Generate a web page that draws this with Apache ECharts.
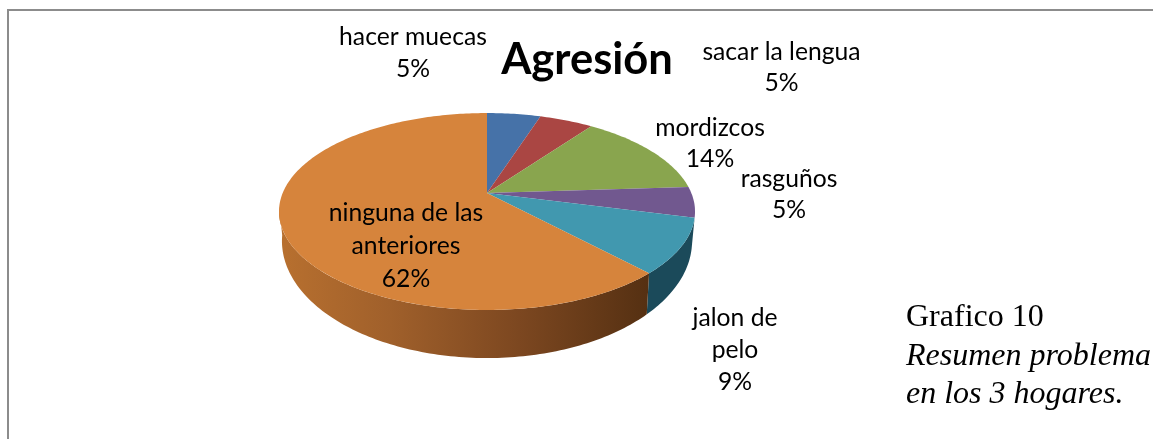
<!DOCTYPE html>
<html>
<head>
<meta charset="utf-8">
<style>html,body{margin:0;padding:0;background:#fff}#c{width:1153px;height:439px}</style>
<script src="https://cdn.jsdelivr.net/npm/echarts@6/dist/echarts.min.js"></script>
</head>
<body>
<div id="c"></div>
<script>
const categories = ['hacer muecas', 'sacar la lengua', 'mordizcos', 'rasguños', 'jalon de\npelo', 'ninguna de las\nanteriores'];
const values = [5, 5, 14, 5, 9, 62];
const topColors = ['#4672a8', '#aa4643', '#89a54e', '#71588f', '#4198af', '#d6843c'];
const chartTitle = 'Agresión';
const captionLines = ['Grafico 10', 'Resumen problema', 'en los 3 hogares.'];

// presentation only
const labelAnchors = [
  {x: 413, y: 37, lh: 32},
  {x: 781.5, y: 52, lh: 31.5},
  {x: 710, y: 128, lh: 31},
  {x: 789, y: 179, lh: 31.5},
  {x: 735, y: 318, lh: 32},
  {x: 406, y: 213, lh: 33}
];
const topFace = {cx: 487, cy: 193, a: 95, b: 204.3, k: 0.188};
const bottomFace = {cx: 487, cy: 219, a: 112.9, b: 201.4, k: 0.188};
const frontFrom = 104, frontTo = 262;
const labelFont = 'Lato';

const total = values.reduce((s, v) => s + v, 0);
const startDeg = i => values.slice(0, i).reduce((s, v) => s + v, 0) / total * 360;
const endDeg = i => startDeg(i) + values[i] / total * 360;

function project(f, deg) {
  const t = deg * Math.PI / 180, X = Math.sin(t), Y = Math.cos(t), d = 1 + f.k * Y;
  return [f.cx + f.b * X / d, f.cy - f.a * Y / d];
}
function arc(f, from, to) {
  const pts = [], n = Math.max(2, Math.ceil(Math.abs(to - from)));
  for (let i = 0; i <= n; i++) pts.push(project(f, from + (to - from) * i / n));
  return pts;
}
const sideFill = i => i === 5
  ? new echarts.graphic.LinearGradient(0, 0, 1, 0, [
      {offset: 0, color: '#b8702f'},
      {offset: 0.3, color: '#a0602b'},
      {offset: 0.65, color: '#7c4720'},
      {offset: 1, color: '#553012'}
    ])
  : '#1b4a5a';

const data = categories.map((name, i) => ({name, value: values[i]}));

const option = {
  animation: false,
  backgroundColor: '#fff',
  title: {
    text: chartTitle, left: 582, top: 33, textAlign: 'center',
    textStyle: {fontFamily: labelFont, fontWeight: 'bold', fontSize: 43.5, color: '#000'}
  },
  graphic: [
    {type: 'line', silent: true, shape: {x1: 8, y1: 10, x2: 1153, y2: 10}, style: {stroke: '#8c8c8c', lineWidth: 2}},
    {type: 'line', silent: true, shape: {x1: 8, y1: 9, x2: 8, y2: 439}, style: {stroke: '#8c8c8c', lineWidth: 2}},
    {type: 'text', silent: true, style: {x: 906, y: 318, text: captionLines[0], verticalAlign: 'middle', fill: '#000', font: '32px "Liberation Serif"'}},
    {type: 'text', silent: true, style: {x: 906, y: 357, text: captionLines[1], verticalAlign: 'middle', fill: '#000', font: 'italic 32px "Liberation Serif"'}},
    {type: 'text', silent: true, style: {x: 906, y: 395, text: captionLines[2], verticalAlign: 'middle', fill: '#000', font: 'italic 32px "Liberation Serif"'}}
  ],
  series: [
    {
      type: 'custom', coordinateSystem: 'none', z: 1, silent: true, data,
      renderItem(params) {
        const i = params.dataIndex;
        const from = Math.max(startDeg(i), frontFrom), to = Math.min(endDeg(i), frontTo);
        if (to <= from) return {type: 'group', children: []};
        return {
          type: 'polygon',
          shape: {points: arc(topFace, from, to).concat(arc(bottomFace, to, from))},
          style: {fill: sideFill(i)}
        };
      }
    },
    {
      type: 'custom', coordinateSystem: 'none', z: 2, silent: true, data,
      renderItem(params) {
        const i = params.dataIndex;
        return {
          type: 'polygon',
          shape: {points: [[topFace.cx, topFace.cy]].concat(arc(topFace, startDeg(i), endDeg(i)))},
          style: {fill: topColors[i]}
        };
      }
    },
    {
      type: 'custom', coordinateSystem: 'none', z: 3, silent: true, data,
      renderItem(params) {
        const i = params.dataIndex, a = labelAnchors[i];
        const lines = categories[i].split('\n');
        const pct = Math.round(values[i] / total * 100) + '%';
        const children = lines.concat([pct]).map((t, j) => ({
          type: 'text',
          style: {
            x: a.x,
            y: a.y + j * a.lh,
            text: t, textAlign: 'center', textVerticalAlign: 'middle',
            fill: '#000', font: '24.7px ' + labelFont
          }
        }));
        return {type: 'group', children};
      }
    }
  ]
};
const chart = echarts.init(document.getElementById('c'), null, {renderer: 'canvas'});
chart.setOption(option);
</script>
</body>
</html>
